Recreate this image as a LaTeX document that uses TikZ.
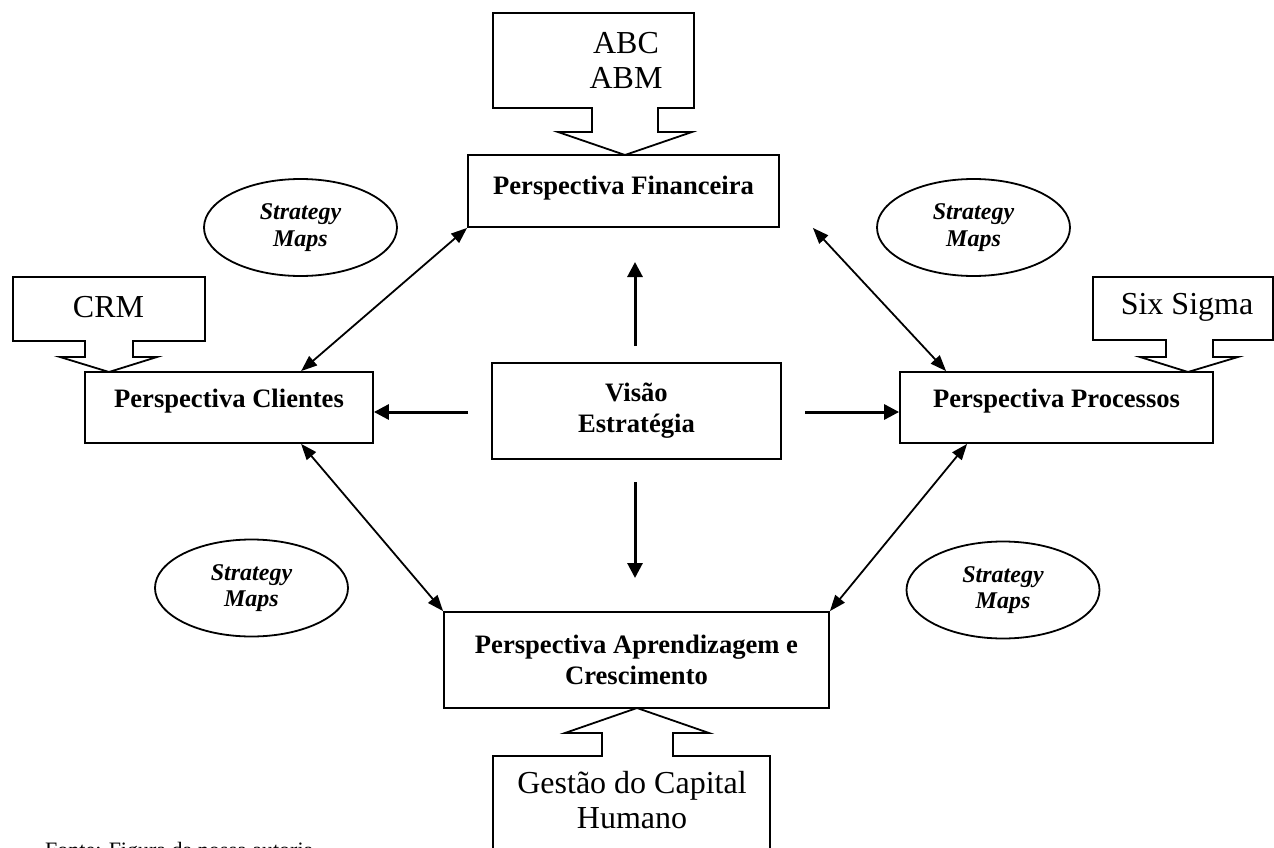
\documentclass[tikz,border=0pt]{standalone}
\usepackage{fontspec}
\setmainfont{Liberation Serif}
\usetikzlibrary{arrows.meta,shapes.geometric}
\tikzset{
  persp/.style={draw, line width=1.8pt, fill=white, inner sep=0pt, align=center,
    font=\fontsize{26.6}{31}\selectfont\bfseries},
  strat/.style={draw, ellipse, line width=1.8pt, minimum width=193pt, minimum height=97pt,
    inner sep=0pt, align=center, font=\fontsize{24}{26.5}\selectfont\bfseries\itshape},
  callout/.style={draw, line width=1.8pt, fill=white, line join=miter},
  calltext/.style={align=center, inner sep=0pt, font=\fontsize{32}{35}\selectfont},
  thickarrow/.style={line width=3pt, -{Triangle[length=15pt,width=15pt]}},
  dblarrow/.style={line width=1.8pt, {Triangle[length=16pt,width=12pt]}-{Triangle[length=16pt,width=12pt]}},
}
\begin{document}
\begin{tikzpicture}[x=1pt,y=-1pt]
\useasboundingbox (0,0) rectangle (1274,848);

% callout shapes
\draw[callout] (493,13) -- (694,13) -- (694,108) -- (658,108) -- (658,132) -- (692,132)
  -- (625,155) -- (558,132) -- (592,132) -- (592,108) -- (493,108) -- cycle;
\node[calltext] (abc) at (626,60) {ABC\\ABM};

\draw[callout] (13,277) -- (205,277) -- (205,341) -- (133,341) -- (133,357) -- (157,357)
  -- (109,372) -- (60,357) -- (85,357) -- (85,341) -- (13,341) -- cycle;
\node[calltext] (crm) at (108.5,307) {CRM};

\draw[callout] (1093,277) -- (1273,277) -- (1273,340) -- (1213,340) -- (1213,357) -- (1238,357)
  -- (1188,372) -- (1140,357) -- (1166,357) -- (1166,340) -- (1093,340) -- cycle;
\node[calltext] (six) at (1187,307) {Six Sigma};

\draw[callout] (493,860) -- (493,756) -- (602,756) -- (602,733) -- (565,733) -- (637,708)
  -- (709,733) -- (673,733) -- (673,756) -- (770,756) -- (770,860);
\node[calltext] (ges) at (632,800) {Gestão do Capital\\Humano};

% perspective boxes
\node[persp, minimum width=311pt, minimum height=72pt, text height=19pt, text depth=13pt] (fin) at (623.5,191) {Perspectiva Financeira};
\node[persp, minimum width=288pt, minimum height=71pt, text height=19pt, text depth=19pt] (cli) at (229,407.5) {Perspectiva Clientes};
\node[persp, minimum width=313pt, minimum height=71pt, text height=19pt, text depth=19pt] (pro) at (1056.5,407.5) {Perspectiva Processos};
\node[persp, minimum width=289pt, minimum height=96pt] (vis) at (636.5,411) {Visão\\Estratégia};
\node[persp, minimum width=385pt, minimum height=96pt] (apr) at (636.5,660) {Perspectiva Aprendizagem e\\Crescimento};

% strategy maps
\node[strat] (e1) at (300.5,227.5) {Strategy\\Maps};
\node[strat] (e2) at (973.5,227.5) {Strategy\\Maps};
\node[strat] (e3) at (251.5,588) {Strategy\\Maps};
\node[strat] (e4) at (1003,590) {Strategy\\Maps};

% straight arrows from vision
\coordinate (upS) at (635,346);
\coordinate (upE) at (635,262);
\coordinate (dnS) at (635,482);
\coordinate (dnE) at (635,578);
\coordinate (lfS) at (468,412);
\coordinate (rtS) at (805,412);
\draw[thickarrow] (upS) -- (upE);
\draw[thickarrow] (dnS) -- (dnE);
\draw[thickarrow] (lfS) -- (cli.east |- lfS);
\draw[thickarrow] (rtS) -- (pro.west |- rtS);

% diagonal double arrows
\draw[dblarrow] ([xshift=217pt]cli.north west) -- (fin.south west);
\draw[dblarrow] ([xshift=33pt]fin.south east) -- ([xshift=47pt]pro.north west);
\draw[dblarrow] ([xshift=217pt]cli.south west) -- (apr.north west);
\draw[dblarrow] ([xshift=68pt]pro.south west) -- (apr.north east);

% caption (cut by page edge, as in the reference)
\node[anchor=base west, inner sep=0pt, font=\fontsize{22}{26}\selectfont] (fonte) at (45,857) {Fonte: Figura da nossa autoria};
\end{tikzpicture}
\end{document}
